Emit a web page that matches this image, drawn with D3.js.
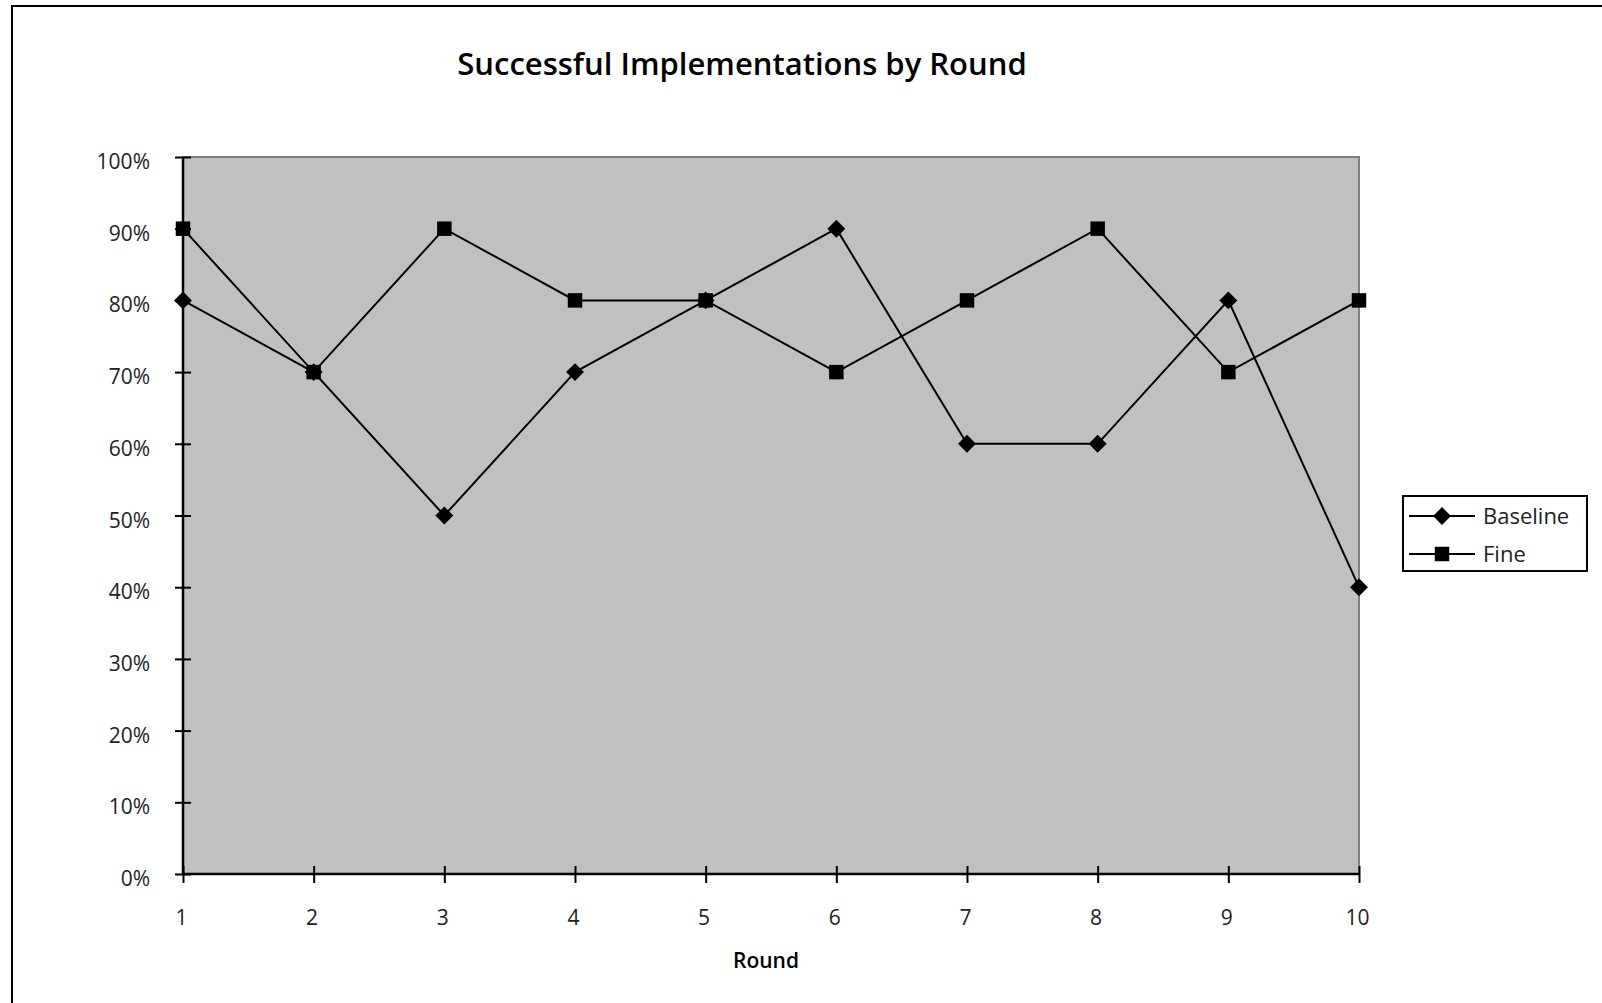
<!DOCTYPE html>
<html>
<head>
<meta charset="utf-8">
<script src="https://cdn.jsdelivr.net/npm/d3@7"></script>
<style>
  body { margin: 0; background: #fff; }
  svg { display: block; font-family: "Open Sans", Lato, sans-serif; }
</style>
</head>
<body>
<div id="chart"></div>
<script>
// Chart data
const rounds = [1, 2, 3, 4, 5, 6, 7, 8, 9, 10];
const baseline = [0.8, 0.7, 0.5, 0.7, 0.8, 0.9, 0.6, 0.6, 0.8, 0.4];
const fine = [0.9, 0.7, 0.9, 0.8, 0.8, 0.7, 0.8, 0.9, 0.7, 0.8];
const yTicks = [0, 0.1, 0.2, 0.3, 0.4, 0.5, 0.6, 0.7, 0.8, 0.9, 1];

const W = 1602, H = 1003;
const plot = { left: 183, right: 1359, top: 157, bottom: 874 };
const font = '"Open Sans", Lato, sans-serif';

const svg = d3.select("#chart")
    .append("svg")
    .attr("width", W)
    .attr("height", H);

// Outer frame (runs off the right/bottom edge)
svg.append("rect")
    .attr("x", 12).attr("y", 6)
    .attr("width", W).attr("height", H)
    .attr("fill", "#fff")
    .attr("stroke", "#000")
    .attr("stroke-width", 2);

const x = d3.scaleLinear().domain([1, 10]).range([plot.left, plot.right]);
const y = d3.scaleLinear().domain([0, 1]).range([plot.bottom, plot.top]);

// Plot area
svg.append("rect")
    .attr("x", plot.left).attr("y", plot.top)
    .attr("width", plot.right - plot.left)
    .attr("height", plot.bottom - plot.top)
    .attr("fill", "#c0c0c0")
    .attr("stroke", "#808080")
    .attr("stroke-width", 2);

// Y axis
const yAxis = svg.append("g")
    .attr("transform", `translate(${plot.left},0)`)
    .call(d3.axisLeft(y).tickValues(yTicks).tickFormat(d3.format(".0%")).tickSize(8).tickPadding(25));
yAxis.attr("font-family", font);
yAxis.selectAll(".tick line").attr("x2", 8).attr("x1", -8).attr("stroke-width", 2);
yAxis.select(".domain").attr("stroke-width", 2.5).attr("d", `M0,${plot.top}V${plot.bottom}`);
yAxis.selectAll("text")
    .attr("font-size", 21)
    .attr("fill", "#222")
    .attr("dy", "0.55em");

// X axis
const xAxis = svg.append("g")
    .attr("transform", `translate(0,${plot.bottom})`)
    .call(d3.axisBottom(x).tickValues(rounds).tickFormat(d3.format("d")).tickSize(8).tickPadding(28));
xAxis.attr("font-family", font);
xAxis.selectAll(".tick line").attr("y1", -8).attr("y2", 9).attr("stroke-width", 2);
xAxis.select(".domain").attr("stroke-width", 2.5).attr("d", `M${plot.left},0H${plot.right}`);
xAxis.selectAll("text")
    .attr("font-size", 21)
    .attr("fill", "#222")
    .attr("dx", "-0.1em");

// Lines and markers
const line = d3.line()
    .x((d, i) => x(rounds[i]))
    .y(d => y(d));

const series = [
    { name: "Baseline", values: baseline, symbol: d3.symbolSquare, size: 160, rotate: 45 },
    { name: "Fine", values: fine, symbol: d3.symbolSquare, size: 210, rotate: 0 }
];

series.forEach(s => {
    svg.append("path")
        .datum(s.values)
        .attr("fill", "none")
        .attr("stroke", "#000")
        .attr("stroke-width", 2)
        .attr("d", line);
});

series.forEach(s => {
    svg.selectAll(null)
        .data(s.values)
        .enter()
        .append("path")
        .attr("d", d3.symbol().type(s.symbol).size(s.size))
        .attr("transform", (d, i) => `translate(${x(rounds[i])},${y(d)}) rotate(${s.rotate})`)
        .attr("fill", "#000");
});

// Title
svg.append("text")
    .attr("x", 742)
    .attr("y", 75)
    .attr("text-anchor", "middle")
    .attr("font-size", 31)
    .attr("font-weight", 600)
    .attr("fill", "#000")
    .text("Successful Implementations by Round");

// X axis label
svg.append("text")
    .attr("x", 766)
    .attr("y", 968)
    .attr("text-anchor", "middle")
    .attr("font-size", 21)
    .attr("font-weight", 600)
    .attr("fill", "#000")
    .text("Round");

// Legend
const legend = svg.append("g");
legend.append("rect")
    .attr("x", 1403).attr("y", 496)
    .attr("width", 184).attr("height", 75)
    .attr("fill", "#fff")
    .attr("stroke", "#000")
    .attr("stroke-width", 2);

series.forEach((s, i) => {
    const cy = 516 + i * 38;
    legend.append("line")
        .attr("x1", 1409).attr("x2", 1475)
        .attr("y1", cy).attr("y2", cy)
        .attr("stroke", "#000").attr("stroke-width", 2);
    legend.append("path")
        .attr("d", d3.symbol().type(s.symbol).size(s.size))
        .attr("transform", `translate(1442,${cy}) rotate(${s.rotate})`)
        .attr("fill", "#000");
    legend.append("text")
        .attr("x", 1483)
        .attr("y", cy + 8)
        .attr("font-size", 22)
        .attr("fill", "#222")
        .text(s.name);
});
</script>
</body>
</html>
